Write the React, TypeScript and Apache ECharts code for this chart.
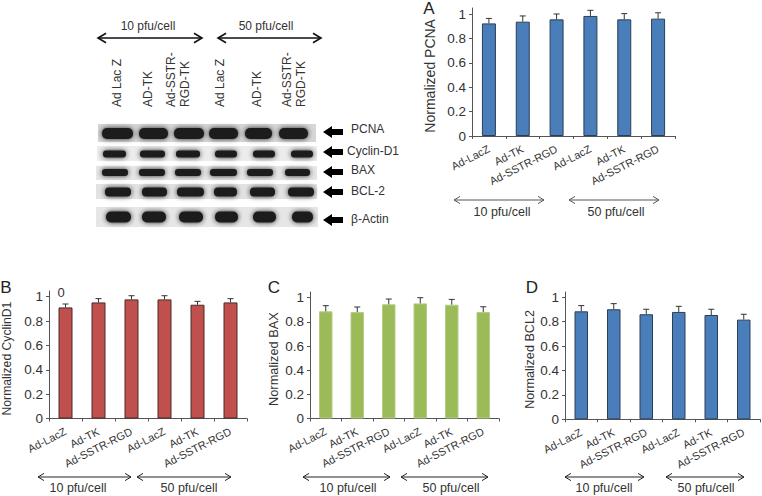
import React, { useEffect, useRef } from "react";
import * as echarts from "echarts";

const categories = ["Ad-LacZ", "Ad-TK", "Ad-SSTR-RGD", "Ad-LacZ", "Ad-TK", "Ad-SSTR-RGD"];
const yTicks = [0, 0.2, 0.4, 0.6, 0.8, 1];

const pcnaValues = [0.923, 0.937, 0.956, 0.984, 0.956, 0.962];
const pcnaUpper = [0.964, 0.984, 1.0, 1.03, 1.003, 1.01];
const cyclinValues = [0.912, 0.953, 0.978, 0.978, 0.934, 0.953];
const cyclinUpper = [0.94, 0.984, 1.008, 1.008, 0.962, 0.984];
const baxValues = [0.887, 0.881, 0.945, 0.953, 0.942, 0.881];
const baxUpper = [0.934, 0.923, 0.989, 1.0, 0.986, 0.925];
const bcl2Values = [0.885, 0.902, 0.861, 0.88, 0.855, 0.817];
const bcl2Upper = [0.932, 0.948, 0.902, 0.926, 0.902, 0.861];

const FONT = "Liberation Sans";
const TEXT = "#333333";

const panels = [
  { name: "Normalized PCNA", values: pcnaValues, upper: pcnaUpper, color: "#4A7EBB", border: "#2B3E55", left: 472, right: 675, y0: 136, y1: 14, top: 8, gap: 35, bw: 14, nameSize: 14 },
  { name: "Normalized CyclinD1", values: cyclinValues, upper: cyclinUpper, color: "#C0504D", border: "#4A2A2A", left: 44, right: 247, y0: 418.5, y1: 296.7, top: 291, gap: 36, bw: 14, nameSize: 12.2 },
  { name: "Normalized BAX", values: baxValues, upper: baxUpper, color: "#9BBB59", border: "#B5CC85", left: 310, right: 499, y0: 418.5, y1: 297.7, top: 292, gap: 30, bw: 13.5, nameSize: 12.8 },
  { name: "Normalized BCL2", values: bcl2Values, upper: bcl2Upper, color: "#4A7EBB", border: "#2B3E55", left: 565, right: 760, y0: 419.3, y1: 297.3, top: 292, gap: 29, bw: 13.5, nameSize: 12.6 },
];

const panelLetters = [
  { t: "A", x: 429, y: 8 },
  { t: "B", x: 6, y: 287 },
  { t: "C", x: 274, y: 287 },
  { t: "D", x: 532, y: 287 },
];

const doseArrows = [
  { x1: 454, x2: 544, y: 200, tx: 502, ty: 212, t: "10 pfu/cell" },
  { x1: 569, x2: 659, y: 200, tx: 616, ty: 212, t: "50 pfu/cell" },
  { x1: 38, x2: 131, y: 477, tx: 78, ty: 488, t: "10 pfu/cell" },
  { x1: 137, x2: 231, y: 477, tx: 189, ty: 488, t: "50 pfu/cell" },
  { x1: 303, x2: 390, y: 477, tx: 348, ty: 488, t: "10 pfu/cell" },
  { x1: 401, x2: 488, y: 477, tx: 451, ty: 488, t: "50 pfu/cell" },
  { x1: 565, x2: 644, y: 477, tx: 604, ty: 488, t: "10 pfu/cell" },
  { x1: 666, x2: 744, y: 477, tx: 706, ty: 488, t: "50 pfu/cell" },
  { x1: 98, x2: 202, y: 38, tx: 148, ty: 26, t: "10 pfu/cell" },
  { x1: 218, x2: 321, y: 38, tx: 266, ty: 26, t: "50 pfu/cell" },
];

const laneLabels = [
  { t: "Ad Lac Z", x: 117 },
  { t: "AD-TK", x: 148 },
  { t: "Ad-SSTR-", x: 171 },
  { t: "RGD-TK", x: 185 },
  { t: "Ad Lac Z", x: 220 },
  { t: "AD-TK", x: 257 },
  { t: "Ad-SSTR-", x: 287 },
  { t: "RGD-TK", x: 301 },
];

const blots = [
  { name: "PCNA", lx: 351, ax: 325, ay: 132, ly: 129, x: 98, y: 124, w: 218, h: 18, by: 128, bh: 11, bg: "#D6D6D6", bands: [[100, 135], [137, 170], [172, 206], [207, 240], [243, 274], [277, 310]] },
  { name: "Cyclin-D1", lx: 347, ax: 325, ay: 152, ly: 151, x: 97, y: 146, w: 220, h: 15, by: 150.5, bh: 7, bg: "#ECECEC", bands: [[101, 128], [138, 167], [174, 202], [213, 239], [251, 277], [289, 315]] },
  { name: "BAX", lx: 351, ax: 325, ay: 172, ly: 170, x: 96, y: 166, w: 221, h: 14, by: 169, bh: 7, bg: "#E6E6E6", bands: [[100, 130], [137, 167], [173, 203], [208, 239], [245, 275], [283, 312]] },
  { name: "BCL-2", lx: 351, ax: 325, ay: 192, ly: 191, x: 96, y: 184, w: 221, h: 15, by: 187.5, bh: 9, bg: "#E2E2E2", bands: [[103, 133], [140, 169], [175, 206], [212, 239], [248, 277], [286, 316]] },
  { name: "β-Actin", lx: 351, ax: 325, ay: 220, ly: 219, x: 96, y: 207, w: 222, h: 20, by: 211.5, bh: 11, bg: "#E6E6E6", bands: [[104, 133], [140, 168], [177, 205], [213, 240], [251, 278], [290, 315]] },
];

function arrow(x1: number, x2: number, y: number, color: string, lw: number, head: number) {
  const style = { stroke: color, lineWidth: lw, fill: "none" };
  return [
    { type: "line", shape: { x1, y1: y, x2, y2: y }, style },
    { type: "polyline", shape: { points: [[x1 + head, y - head * 0.6], [x1, y], [x1 + head, y + head * 0.6]] }, style },
    { type: "polyline", shape: { points: [[x2 - head, y - head * 0.6], [x2, y], [x2 - head, y + head * 0.6]] }, style },
  ];
}

function label(t: string, x: number, y: number, size: number, extra: any = {}) {
  return {
    type: "text",
    x,
    y,
    style: { text: t, fontFamily: FONT, fontSize: size, fill: TEXT, textAlign: "center", textVerticalAlign: "middle", ...extra },
  };
}

export default function App() {
  const ref = useRef<HTMLDivElement>(null);
  useEffect(() => {
    const chart = echarts.init(ref.current!, undefined, { renderer: "svg" });
    const graphic: any[] = [];

    blots.forEach((b) => {
      graphic.push({ type: "rect", shape: { x: b.x, y: b.y, width: b.w, height: b.h }, style: { fill: b.bg } });
      b.bands.forEach(([a, c]) => {
        graphic.push({
          type: "rect",
          shape: { x: a + 2, y: b.by, width: c - a - 4, height: b.bh, r: b.bh / 2.2 },
          style: { fill: "#1E1E1E", shadowBlur: 5, shadowColor: "#222222" },
        });
      });
      graphic.push({
        type: "polygon",
        shape: {
          points: [
            [b.ax - 2, b.ay], [b.ax + 7, b.ay - 6], [b.ax + 7, b.ay - 3], [b.ax + 18, b.ay - 3],
            [b.ax + 18, b.ay + 3], [b.ax + 7, b.ay + 3], [b.ax + 7, b.ay + 6],
          ],
        },
        style: { fill: "#000000" },
      });
      graphic.push(label(b.name, b.lx, b.ly, 12, { textAlign: "left" }));
    });

    laneLabels.forEach((l) => {
      graphic.push({
        type: "text",
        x: l.x,
        y: 107,
        rotation: Math.PI / 2,
        style: { text: l.t, fontFamily: FONT, fontSize: 12, fill: TEXT, textAlign: "left", textVerticalAlign: "middle" },
      });
    });

    doseArrows.forEach((d, i) => {
      const top = i >= 8;
      const grey = i < 2;
      graphic.push(...arrow(d.x1, d.x2, d.y, top ? "#111111" : grey ? "#555555" : "#222222", top ? 1.6 : 1, top ? 8 : 6));
      graphic.push(label(d.t, d.tx, d.ty, top ? 12 : 12.5));
    });

    panelLetters.forEach((p) => graphic.push(label(p.t, p.x, p.y, 17, { fill: "#222222" })));
    graphic.push(label("0", 61, 292, 13));

    const option: any = {
      animation: false,
      backgroundColor: "#ffffff",
      graphic: { elements: graphic },
      grid: panels.map((p) => ({ left: p.left, width: p.right - p.left, top: p.top, height: p.y0 - p.top })),
      xAxis: panels.map((_, i) => ({
        type: "category",
        gridIndex: i,
        data: categories,
        axisLine: { lineStyle: { color: "#555555", width: 1 } },
        axisTick: { show: true, alignWithLabel: false, length: 3, lineStyle: { color: "#555555" } },
        axisLabel: { interval: 0, rotate: 27, margin: 12, fontFamily: FONT, fontSize: 11, color: TEXT, hideOverlap: false },
      })),
      yAxis: panels.map((p, i) => {
        const max = (p.y0 - p.top) / (p.y0 - p.y1);
        return {
          type: "value",
          gridIndex: i,
          min: 0,
          max,
          name: p.name,
          nameLocation: "middle",
          nameGap: p.gap,
          nameTextStyle: { fontFamily: FONT, fontSize: p.nameSize, color: TEXT, padding: [0, 2 * (p.y0 - p.top) * 0.03, 0, 0] },
          splitLine: { show: false },
          axisLine: { show: true, lineStyle: { color: "#555555", width: 1 } },
          axisTick: { show: true, length: 3, customValues: yTicks, lineStyle: { color: "#555555" } },
          axisLabel: {
            customValues: yTicks,
            margin: 6,
            fontFamily: FONT,
            fontSize: 13.5,
            color: TEXT,
            formatter: (v: number) => String(Math.round(v * 10) / 10),
          },
        };
      }),
      series: panels.flatMap((p, i) => [
        {
          type: "bar",
          xAxisIndex: i,
          yAxisIndex: i,
          data: p.values,
          barWidth: p.bw,
          itemStyle: { color: p.color, borderColor: p.border, borderWidth: 1 },
        },
        {
          type: "custom",
          xAxisIndex: i,
          yAxisIndex: i,
          data: p.upper.map((u, k) => [k, p.values[k], u]),
          encode: { x: 0, y: 2 },
          z: 3,
          renderItem: (_: any, api: any) => {
            const [x, yLow] = api.coord([api.value(0), api.value(1)]);
            const [, yHigh] = api.coord([api.value(0), api.value(2)]);
            const style = { stroke: "#333333", lineWidth: 1, fill: "none" };
            return {
              type: "group",
              children: [
                { type: "line", shape: { x1: x, y1: yLow, x2: x, y2: yHigh }, style },
                { type: "line", shape: { x1: x - 3, y1: yHigh, x2: x + 3, y2: yHigh }, style },
              ],
            };
          },
        },
      ]),
    };
    chart.setOption(option);
    return () => chart.dispose();
  }, []);
  return <div ref={ref} style={{ position: "absolute", left: 0, top: 0, width: 762, height: 496 }} />;
}
